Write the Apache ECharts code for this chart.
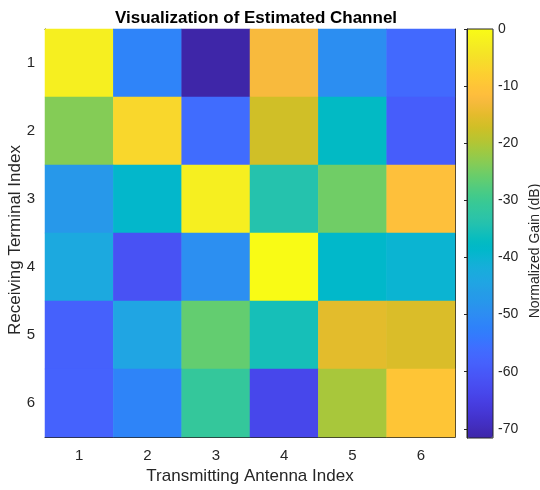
<!DOCTYPE html>
<html>
<head>
<meta charset="utf-8">
<script src="https://cdn.jsdelivr.net/npm/echarts@6/dist/echarts.min.js"></script>
<style>
  html, body { margin: 0; padding: 0; background: #fff; }
  #chart { width: 540px; height: 490px; }
</style>
</head>
<body>
<div id="chart"></div>
<script>
  // transmitting antenna (columns) and receiving terminal (rows)
  var txIndex = ['1', '2', '3', '4', '5', '6']
  var rxIndex = ['1', '2', '3', '4', '5', '6']

  // normalized gain in dB, one array per receiving terminal
  var gainRx1 = [-2.3, -51.8, -71.6, -12.5, -49.5, -56.9]
  var gainRx2 = [-23.6, -6.6, -56.3, -17.1, -37.6, -59.2]
  var gainRx3 = [-47.5, -38.9, -2.3, -33.9, -25.2, -11.0]
  var gainRx4 = [-43.3, -61.4, -49.3, 0, -38.7, -40.1]
  var gainRx5 = [-58.5, -44.4, -26.2, -35.5, -15.1, -16.1]
  var gainRx6 = [-58.2, -51.7, -31.3, -63.7, -20.7, -9.8]

  var colorbarTicks = [-70, -60, -50, -40, -30, -20, -10, 0]
  var gainMin = -71.6
  var gainMax = 0

  // parula(64)
  var parula = [
    [0.2422,0.1504,0.6603],[0.2504,0.1650,0.7076],[0.2578,0.1818,0.7511],[0.2647,0.1978,0.7952],
    [0.2706,0.2147,0.8364],[0.2751,0.2342,0.8710],[0.2783,0.2559,0.8991],[0.2803,0.2782,0.9221],
    [0.2813,0.3006,0.9414],[0.2810,0.3228,0.9579],[0.2795,0.3447,0.9717],[0.2760,0.3667,0.9829],
    [0.2699,0.3892,0.9906],[0.2602,0.4123,0.9952],[0.2440,0.4358,0.9988],[0.2206,0.4603,0.9973],
    [0.1963,0.4847,0.9892],[0.1834,0.5074,0.9798],[0.1786,0.5289,0.9682],[0.1764,0.5499,0.9520],
    [0.1687,0.5703,0.9359],[0.1540,0.5902,0.9218],[0.1460,0.6091,0.9079],[0.1380,0.6276,0.8973],
    [0.1248,0.6459,0.8883],[0.1113,0.6635,0.8763],[0.0952,0.6798,0.8598],[0.0689,0.6948,0.8394],
    [0.0297,0.7082,0.8163],[0.0036,0.7203,0.7917],[0.0067,0.7312,0.7660],[0.0433,0.7411,0.7394],
    [0.0964,0.7500,0.7120],[0.1408,0.7584,0.6842],[0.1717,0.7670,0.6554],[0.1938,0.7758,0.6251],
    [0.2161,0.7843,0.5923],[0.2470,0.7918,0.5567],[0.2906,0.7973,0.5188],[0.3406,0.8008,0.4789],
    [0.3909,0.8029,0.4354],[0.4456,0.8024,0.3909],[0.5044,0.7993,0.3480],[0.5616,0.7942,0.3045],
    [0.6174,0.7876,0.2612],[0.6720,0.7793,0.2227],[0.7242,0.7698,0.1910],[0.7738,0.7598,0.1646],
    [0.8203,0.7498,0.1535],[0.8634,0.7406,0.1596],[0.9035,0.7330,0.1774],[0.9393,0.7288,0.2100],
    [0.9728,0.7298,0.2394],[0.9956,0.7434,0.2371],[0.9970,0.7659,0.2199],[0.9952,0.7893,0.2028],
    [0.9892,0.8136,0.1885],[0.9786,0.8386,0.1766],[0.9676,0.8639,0.1643],[0.9610,0.8890,0.1537],
    [0.9597,0.9135,0.1423],[0.9628,0.9373,0.1265],[0.9691,0.9606,0.1064],[0.9769,0.9839,0.0805]
  ].map(function (c) {
    return 'rgb(' + Math.round(c[0] * 255) + ',' + Math.round(c[1] * 255) + ',' + Math.round(c[2] * 255) + ')'
  })

  var rows = [gainRx1, gainRx2, gainRx3, gainRx4, gainRx5, gainRx6]
  var cells = []
  rows.forEach(function (row, r) {
    row.forEach(function (v, c) {
      cells.push([c, r, v])
    })
  })

  var textColor = '#262626'
  var font = 'Liberation Sans, Arial, Helvetica, sans-serif'
  var tickStyle = { show: true, inside: true, length: 4, alignWithLabel: true, lineStyle: { color: textColor } }
  var lineStyle = { show: true, lineStyle: { color: textColor, width: 1 } }

  var myChart = echarts.init(document.getElementById('chart'))
  var option = {
    animation: false,
    backgroundColor: '#fff',
    textStyle: { fontFamily: font },
    title: {
      text: 'Visualization of Estimated Channel',
      left: 251,
      top: 5,
      textAlign: 'center',
      textStyle: { fontSize: 17, fontWeight: 'bold', color: '#000', fontFamily: font },
    },
    grid: [
      { left: 45, top: 29, width: 410, height: 409, containLabel: false },
      { left: 467, top: 29, width: 26, height: 409, containLabel: false },
    ],
    xAxis: [
      {
        type: 'category', data: txIndex, gridIndex: 0, position: 'bottom',
        axisLine: lineStyle, axisTick: tickStyle, splitLine: { show: false },
        axisLabel: { color: textColor, fontSize: 15, margin: 11 },
        name: 'Transmitting Antenna Index', nameLocation: 'middle', nameGap: 31,
        nameTextStyle: { color: textColor, fontSize: 17 },
      },
      {
        type: 'category', data: txIndex, gridIndex: 0, position: 'top',
        axisLine: lineStyle, axisTick: tickStyle, axisLabel: { show: false },
      },
      { type: 'value', gridIndex: 1, show: false, min: 0, max: 1 },
    ],
    yAxis: [
      {
        type: 'category', data: rxIndex, gridIndex: 0, position: 'left', inverse: true,
        axisLine: lineStyle, axisTick: tickStyle, splitLine: { show: false },
        axisLabel: { color: textColor, fontSize: 15, margin: 10 },
      },
      {
        type: 'category', data: rxIndex, gridIndex: 0, position: 'right', inverse: true,
        axisLine: lineStyle, axisTick: tickStyle, axisLabel: { show: false },
      },
      {
        type: 'value', gridIndex: 1, position: 'right', min: gainMin, max: gainMax, z: 10,
        axisLine: lineStyle, splitLine: { show: false },
        axisTick: { show: true, inside: true, length: 3, customValues: colorbarTicks, lineStyle: { color: textColor } },
        axisLabel: { color: textColor, fontSize: 14, margin: 5, customValues: colorbarTicks },
      },
    ],
    visualMap: {
      type: 'continuous',
      min: gainMin,
      max: gainMax,
      seriesIndex: 0,
      calculable: false,
      orient: 'vertical',
      left: 467,
      top: 29,
      padding: 0,
      itemWidth: 26,
      itemHeight: 409,
      text: null,
      hoverLink: false,
      inRange: { color: parula },
    },
    series: [
      {
        type: 'heatmap',
        xAxisIndex: 0,
        yAxisIndex: 0,
        data: cells,
        emphasis: { disabled: true },
        itemStyle: { borderWidth: 0 },
      },
    ],
  }
  myChart.setOption(option)

  // axis titles on the left and beside the colorbar, plus the colorbar frame
  var tl = myChart.convertToPixel({ xAxisIndex: 2, yAxisIndex: 2 }, [0, gainMax])
  var br = myChart.convertToPixel({ xAxisIndex: 2, yAxisIndex: 2 }, [1, gainMin])
  myChart.setOption({
    graphic: [
      {
        type: 'text', x: 15, y: 240, rotation: Math.PI / 2, z: 100,
        style: { text: 'Receiving Terminal Index', fill: textColor, font: '17px ' + font, textAlign: 'center', textVerticalAlign: 'middle' },
      },
      {
        type: 'text', x: 535, y: 251, rotation: Math.PI / 2, z: 100,
        style: { text: 'Normalized Gain (dB)', fill: textColor, font: '14px ' + font, textAlign: 'center', textVerticalAlign: 'middle' },
      },
      {
        type: 'rect', z: 100, silent: true,
        shape: { x: tl[0], y: tl[1], width: br[0] - tl[0], height: br[1] - tl[1] },
        style: { fill: 'none', stroke: textColor, lineWidth: 1 },
      },
    ],
  })
</script>
</body>
</html>
